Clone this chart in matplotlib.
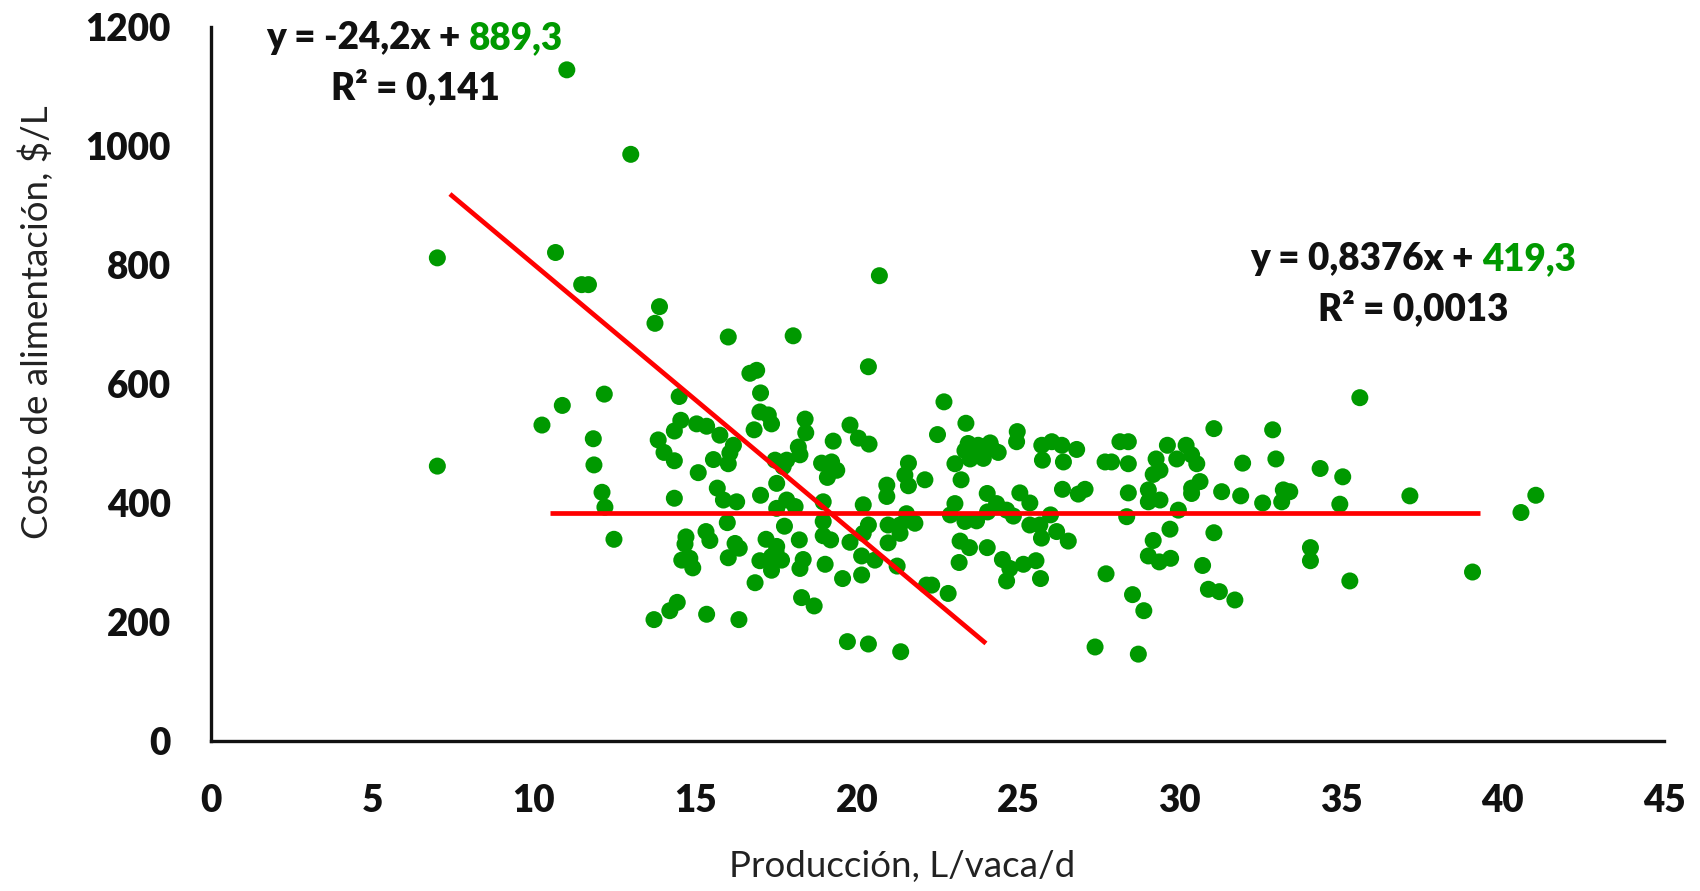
import matplotlib
matplotlib.use("Agg")
import matplotlib.pyplot as plt
from matplotlib.offsetbox import TextArea, HPacker, VPacker, AnnotationBbox
import numpy as np

plt.rcParams['font.family'] = ['Lato', 'DejaVu Sans']

# ---- data ----
produccion = [
    11.02, 13.0, 7.01, 10.67, 11.48, 11.69, 13.89, 13.75, 16.02, 18.03, 20.70, 20.36, 16.69, 16.90,
    7.01, 10.88, 10.25, 12.18, 11.84, 11.86, 12.11, 12.20, 12.48, 13.72,
    14.50, 17.02, 17.0, 17.26, 17.36, 16.82, 18.40, 18.42, 19.79, 20.05, 20.38, 19.27, 14.55, 14.35,
    15.04, 15.35, 13.85, 14.03, 14.35, 15.76, 16.18, 16.07, 15.56, 16.02, 15.09, 17.47, 17.83, 18.19,
    18.24, 17.72, 17.52, 18.91, 19.22, 19.38, 19.09, 15.68, 15.87, 16.28, 14.35, 17.02, 17.83, 17.52,
    18.09, 18.96, 20.20, 20.93, 20.93,
    15.99, 14.71, 14.68, 15.33, 15.45, 14.58, 14.83, 14.92, 16.23, 16.36, 16.02, 17.19, 17.52, 17.0,
    17.36, 17.67, 17.36, 17.5, 18.22, 18.34, 18.24, 17.76, 16.85, 18.96, 18.96, 19.19, 19.02, 19.79,
    19.56, 20.15, 20.15, 20.36, 20.20, 20.56, 20.97, 20.97, 14.44, 14.21, 15.35, 16.35, 18.29, 18.68,
    19.71, 20.36,
    22.70, 23.38, 22.50, 24.97, 24.95, 23.45, 23.76, 24.13, 23.35, 23.82, 24.38, 23.51, 23.92, 24.18,
    23.04, 23.23, 25.73, 26.04, 26.35, 26.81, 25.75, 26.40, 27.69, 27.89, 28.15, 28.41, 28.41, 21.60,
    21.49, 21.60, 22.11, 24.04, 25.05, 25.36, 26.37, 26.86, 27.07, 28.41, 23.04, 24.33, 21.54,
    22.9, 23.35, 23.71, 24.05, 24.64, 24.85, 26.0,
    21.34, 21.80, 21.34, 21.25, 22.16, 22.32, 22.83, 23.20, 23.49, 24.04, 23.17, 24.51, 24.74, 24.64,
    25.16, 25.55, 25.69, 25.36, 25.67, 25.72, 26.19, 26.55, 27.72, 21.36, 27.38,
    35.58, 31.06, 32.88, 29.62, 30.20, 30.37, 30.53, 29.27, 29.91, 29.18, 29.39, 31.95, 32.98, 34.35,
    35.05, 29.03, 29.03, 29.39, 30.63, 30.37, 30.37, 31.30, 31.89, 32.57, 33.21, 33.41, 33.16, 34.96,
    29.96, 28.36,
    29.70, 29.18, 29.03, 29.37, 29.72, 31.06, 30.71, 30.89, 31.23, 31.71, 28.54, 28.89, 28.72, 34.05,
    34.05, 35.27,
    37.13, 41.03, 40.57, 39.07,
]
costo = [
    1128, 986, 812, 821, 767, 767, 730, 702, 679, 681, 782, 629, 618, 623,
    462, 564, 531, 583, 508, 464, 418, 393, 339, 204,
    579, 585, 553, 548, 533, 523, 541, 518, 531, 509, 499, 504, 539, 521,
    533, 529, 506, 485, 471, 514, 497, 484, 473, 466, 451, 472, 472, 494,
    481, 461, 433, 467, 469, 455, 443, 425, 405, 402, 408, 413, 405, 391,
    394, 402, 397, 430, 411,
    367, 343, 331, 352, 337, 304, 307, 291, 332, 324, 308, 339, 327, 303,
    310, 304, 287, 318, 338, 305, 290, 361, 266, 369, 345, 338, 297, 334,
    273, 311, 279, 363, 349, 304, 333, 363, 233, 219, 213, 204, 241, 227,
    167, 163,
    570, 534, 515, 520, 503, 500, 497, 501, 488, 481, 485, 474, 475, 492,
    466, 439, 497, 503, 497, 490, 472, 469, 469, 469, 503, 503, 466, 467,
    447, 429, 439, 416, 417, 400, 423, 415, 423, 417, 399, 399, 382,
    380, 369, 370, 385, 388, 378, 380,
    363, 366, 349, 294, 262, 262, 248, 336, 325, 325, 300, 305, 290, 269,
    297, 303, 273, 363, 363, 341, 352, 336, 281, 150, 158,
    577, 525, 523, 497, 497, 481, 466, 474, 474, 448, 455, 467, 474, 458,
    444, 422, 402, 405, 436, 425, 416, 419, 412, 400, 422, 419, 402, 398,
    388, 377,
    356, 337, 311, 301, 307, 350, 295, 255, 251, 237, 246, 219, 146, 325,
    303, 269,
    412, 413, 384, 284,
]

# trend lines as drawn in the picture
tend1_rango = [7.4, 24.0]
tend1_pendiente = -45.5
tend1_intercepto = 1256.0
tend2_rango = [10.5, 39.3]
tend2_nivel = 383.0

x_ticks = [0, 5, 10, 15, 20, 25, 30, 35, 40, 45]
y_ticks = [0, 200, 400, 600, 800, 1000, 1200]

eq1 = ("y = -24,2x + ", "889,3", "R² = 0,141")
eq2 = ("y = 0,8376x + ", "419,3", "R² = 0,0013")

GREEN = '#009900'
RED = '#ff0000'

W, H = 1700, 891
fig = plt.figure(figsize=(W / 100, H / 100), dpi=100)
ax = fig.add_axes([211 / W, 1 - 741 / H, (1664 - 211) / W, (741 - 27) / H])

ax.scatter(produccion, costo, s=150, color=GREEN, edgecolors='none', zorder=3)

x1 = np.array(tend1_rango)
ax.plot(x1, tend1_pendiente * x1 + tend1_intercepto, color=RED, lw=3.4, zorder=4,
        solid_capstyle='butt')
ax.plot(tend2_rango, [tend2_nivel, tend2_nivel], color=RED, lw=3.4, zorder=4,
        solid_capstyle='butt')

ax.set_xlim(0, 45)
ax.set_ylim(0, 1200)
ax.set_xticks(x_ticks, [str(v) for v in x_ticks], fontweight='heavy')
ax.set_yticks(y_ticks, [str(v) for v in y_ticks], fontweight='heavy')
ax.tick_params(length=0, labelsize=26.5, colors='#111111')
ax.tick_params(axis='x', pad=31)
ax.tick_params(axis='y', pad=29)
for side in ['top', 'right']:
    ax.spines[side].set_visible(False)
for side in ['left', 'bottom']:
    ax.spines[side].set_linewidth(2.4)
    ax.spines[side].set_color('#111111')
ax.patch.set_alpha(0)

fig.text(902 / W, 1 - 867 / H, 'Producción, L/vaca/d', ha='center', va='center',
         fontsize=26.5, color='#222222')
fig.text(36 / W, 1 - 322 / H, 'Costo de alimentación, $/L', ha='center', va='center',
         rotation=90, fontsize=26.5, color='#222222')


def eq_box(parts, cx, cy):
    props = dict(fontsize=26.5, fontweight='heavy', family=['Lato', 'DejaVu Sans'])
    t1 = TextArea(parts[0], textprops=dict(color='#111111', **props))
    t2 = TextArea(parts[1], textprops=dict(color=GREEN, **props))
    row = HPacker(children=[t1, t2], align='baseline', pad=0, sep=0)
    t3 = TextArea(parts[2], textprops=dict(color='#111111', **props))
    box = VPacker(children=[row, t3], align='center', pad=0, sep=9)
    ab = AnnotationBbox(box, (cx / W, 1 - cy / H), xycoords='figure fraction',
                        frameon=False, box_alignment=(0.5, 0.5), pad=0)
    fig.add_artist(ab)


eq_box(eq1, 415, 63)
eq_box(eq2, 1413, 284)

fig.savefig('out.png', dpi=100)
